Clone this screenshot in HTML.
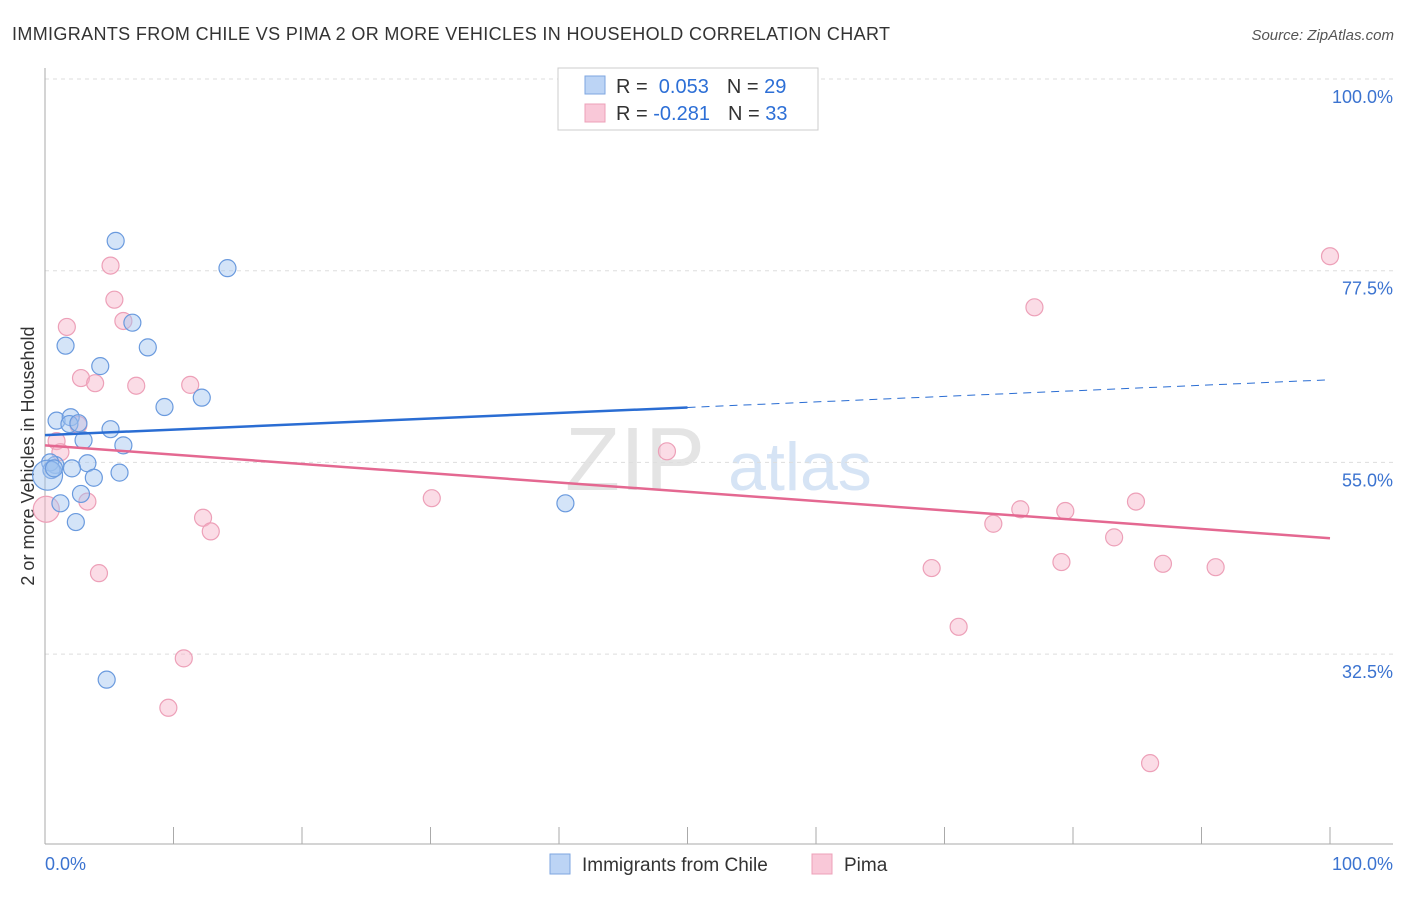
<!DOCTYPE html>
<html><head><meta charset="utf-8"><style>
body{margin:0;background:#fff;font-family:"Liberation Sans",sans-serif}
svg text{font-family:"Liberation Sans",sans-serif}
</style></head><body>
<svg id="c" width="1406" height="892">
<text x="12" y="40" font-size="18" fill="#333" textLength="878">IMMIGRANTS FROM CHILE VS PIMA 2 OR MORE VEHICLES IN HOUSEHOLD CORRELATION CHART</text>
<text x="1394" y="40" font-size="15" fill="#555" font-style="italic" text-anchor="end">Source: ZipAtlas.com</text>
<text x="635" y="490" font-size="90" fill="#e4e4e4" font-family="Liberation Serif" text-anchor="middle">ZIP</text>
<text x="800" y="490" font-size="68" fill="#d6e4f5" text-anchor="middle">atlas</text>
<text transform="translate(34,456) rotate(-90)" font-size="18" fill="#333" text-anchor="middle">2 or more Vehicles in Household</text>
<g id="grid"></g><g id="marks"></g>
<g>
<rect x="558" y="68" width="260" height="62" fill="#fff" stroke="#ccc"/>
<rect x="585" y="76" width="20" height="18" fill="#bcd4f5" stroke="#7ea6e0"/>
<rect x="585" y="104" width="20" height="18" fill="#f9c8d8" stroke="#eda0b8"/>
<text x="616" y="93" font-size="20" fill="#333">R = <tspan fill="#2d6fd6">&#160;0.053</tspan><tspan dx="18">N = </tspan><tspan fill="#2d6fd6">29</tspan></text>
<text x="616" y="120" font-size="20" fill="#333">R = <tspan fill="#2d6fd6">-0.281</tspan><tspan dx="18">N = </tspan><tspan fill="#2d6fd6">33</tspan></text>
</g>
<g>
<rect x="550" y="854" width="20" height="20" fill="#bcd4f5" stroke="#7ea6e0"/>
<text x="582" y="871" font-size="19" fill="#333">Immigrants from Chile</text>
<rect x="812" y="854" width="20" height="20" fill="#f9c8d8" stroke="#eda0b8"/>
<text x="844" y="871" font-size="19" fill="#333">Pima</text>
</g>
</svg>
<script>
const yTicks=[100,77.5,55,32.5];
const yTickLabels=["100.0%","77.5%","55.0%","32.5%"];
const chileX=[5.5,14.2,6.8,1.6,8.0,4.3,9.3,12.2,0.9,2.0,1.9,2.6,3.0,5.1,6.1,3.3,2.1,0.8,0.4,0.5,0.2,3.8,5.8,2.8,1.2,2.4,40.5,4.8,0.7];
const chileY=[81.0,77.8,71.4,68.7,68.5,66.3,61.5,62.6,59.9,60.3,59.5,59.6,57.6,58.9,57.0,54.9,54.3,54.7,55.0,54.1,53.5,53.2,53.8,51.3,50.2,48.0,50.2,29.5,54.3];
const pimaX=[5.1,5.4,1.7,6.1,2.8,3.9,7.1,11.3,0.9,1.2,3.3,0.1,4.2,12.3,12.9,10.8,9.6,30.1,48.4,100,77.0,75.9,73.8,79.4,84.9,83.2,79.1,69.0,71.1,87.0,91.1,86.0,2.6];
const pimaY=[78.1,74.1,70.9,71.6,64.9,64.3,64.0,64.1,57.5,56.2,50.4,49.5,42.0,48.5,46.9,32.0,26.2,50.8,56.3,79.2,73.2,49.5,47.8,49.3,50.4,46.2,43.3,42.6,35.7,43.1,42.7,19.7,59.4];
const chileTrend=[58.2,64.7];
const pimaTrend=[57.0,46.1];
const NS="http://www.w3.org/2000/svg";
const X=v=>45+v*12.85, Y=v=>79+(100-v)*191.7/22.5;
function mk(p,t,a){const e=document.createElementNS(NS,t);for(const k in a)e.setAttribute(k,a[k]);p.appendChild(e);return e;}
const g=document.getElementById('grid'),m=document.getElementById('marks');
yTicks.forEach((v,i)=>{
 const l=mk(g,'line',{x1:45,x2:1393,y1:Y(v),y2:Y(v),stroke:'#ddd','stroke-dasharray':'4,4'});
 
 
 const t=mk(g,'text',{x:1393,y:Y(v)+24,'font-size':18,fill:'#3b73d0','text-anchor':'end'});
 t.textContent=yTickLabels[i];
 
 
});
mk(g,'line',{x1:45,x2:45,y1:68,y2:844,stroke:'#aaa'});
mk(g,'line',{x1:45,x2:1393,y1:844,y2:844,stroke:'#aaa'});
for(let i=0;i<=10;i++){const tk=mk(g,'line',{x1:X(i*10),x2:X(i*10),y1:827,y2:844,stroke:'#aaa'});
 
 }
const x0=mk(g,'text',{x:45,y:870,'font-size':18,fill:'#3b73d0'});x0.textContent='0.0%';


const x1=mk(g,'text',{x:1393,y:870,'font-size':18,fill:'#3b73d0','text-anchor':'end'});x1.textContent='100.0%';


pimaX.forEach((v,i)=>{const c=mk(m,'circle',{cx:X(v),cy:Y(pimaY[i]),r:v<0.5?13:8.5,fill:'rgba(246,178,200,0.45)',stroke:'#eda0b8','stroke-width':1.2});
 
 });
chileX.forEach((v,i)=>{const c=mk(m,'circle',{cx:X(v),cy:Y(chileY[i]),r:v<0.3?15:8.5,fill:'rgba(160,196,240,0.45)',stroke:'#6a9ade','stroke-width':1.2});
 
 });
const slope=(chileTrend[1]-chileTrend[0])/100, mid=chileTrend[0]+slope*50;
let l=mk(m,'line',{x1:X(0),y1:Y(chileTrend[0]),x2:X(50),y2:Y(mid),stroke:'#2a6dd3','stroke-width':2.5});


l=mk(m,'line',{x1:X(50),y1:Y(mid),x2:X(100),y2:Y(chileTrend[1]),stroke:'#2a6dd3','stroke-width':1,'stroke-dasharray':'8,6'});


l=mk(m,'line',{x1:X(0),y1:Y(pimaTrend[0]),x2:X(100),y2:Y(pimaTrend[1]),stroke:'#e46891','stroke-width':2.5});


</script>
</body></html>
